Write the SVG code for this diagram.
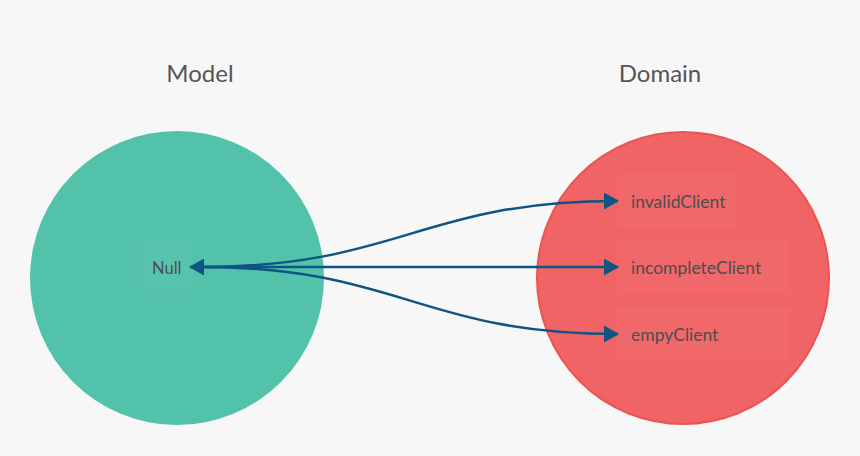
<svg xmlns="http://www.w3.org/2000/svg" width="860" height="456" viewBox="0 0 860 456">
<defs>
<style>
.title{font-family:Lato,"Liberation Sans",sans-serif;font-size:24px;fill:#555555;text-anchor:middle}
.lbl{font-family:Lato,"Liberation Sans",sans-serif;font-size:17.5px;fill:#4d4d4d}
.box{fill:#ffffff;fill-opacity:0.03;stroke:none}
.conn{fill:none;stroke:#0f5483;stroke-width:2.5}
</style>
<marker id="ah" viewBox="0 0 15 17" refX="14" refY="8.5" markerWidth="15" markerHeight="17" markerUnits="userSpaceOnUse" orient="auto-start-reverse">
<path d="M0,0 L15,8.5 L0,17 Z" fill="#0f5483"/>
</marker>
</defs>
<rect width="860" height="456" fill="#f7f7f7"/>
<text class="title" x="200" y="82">Model</text>
<text class="title" x="660" y="82">Domain</text>
<g id="model">
<circle cx="177" cy="278" r="147" fill="#52c2ab"/>
</g>
<g id="domain">
<circle cx="683" cy="278" r="146" fill="#f06466" stroke="#ea5452" stroke-width="2"/>
</g>
<g id="null">
<rect class="box" x="137" y="240" width="55" height="53"/>
<text class="lbl" x="152" y="274" style="font-size:16.5px">Null</text>
</g>
<g id="invalidClient">
<rect class="box" x="617" y="174" width="120" height="54"/>
<text class="lbl" x="631" y="208">invalidClient</text>
</g>
<g id="incompleteClient">
<rect class="box" x="617" y="240" width="173" height="54"/>
<text class="lbl" x="631" y="274">incompleteClient</text>
</g>
<g id="empyClient">
<rect class="box" x="617" y="307" width="173" height="53"/>
<text class="lbl" x="631" y="341">empyClient</text>
</g>
<g id="connectors">
<path class="conn" d="M190,267 L618,267" marker-start="url(#ah)" marker-end="url(#ah)"/>
<path class="conn" d="M200,267 C400,267 420,201 618,201" marker-end="url(#ah)"/>
<path class="conn" d="M200,267 C400,267 420,334 618,334" marker-end="url(#ah)"/>
</g>
</svg>
